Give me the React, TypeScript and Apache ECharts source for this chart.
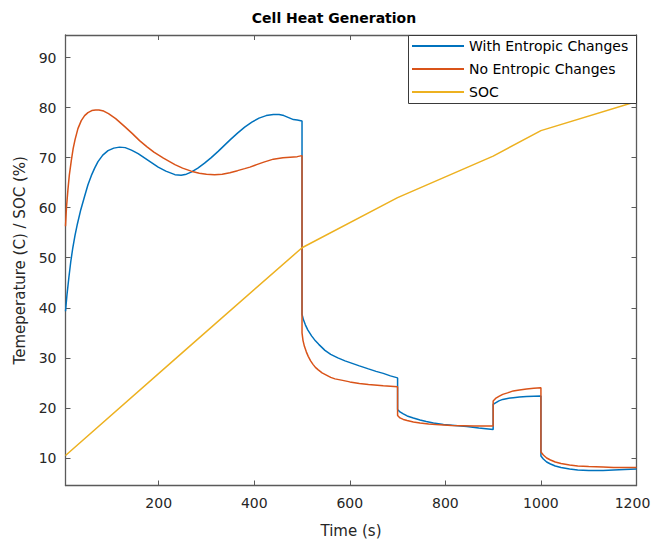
import React, { useEffect, useRef } from "react";
import * as echarts from "echarts";

// ---- Data ----
const timeWith = [5, 8, 12, 16, 20, 25, 30, 37, 45, 52, 59, 66, 73, 83, 94, 106, 118, 130, 143, 157, 171, 185, 199, 215, 234, 247, 258, 268, 282, 296, 310, 325, 338, 350, 365, 380, 395, 410, 425, 440, 452, 462, 472, 482, 490, 500,
  500, 503, 507, 512, 520, 528, 535, 548, 560, 575, 590, 605, 620, 639, 655, 670, 685, 700,
  700, 705, 712, 720, 733, 747, 760, 775, 796, 820, 845, 870, 900,
  900, 905, 912, 920, 930, 942, 955, 970, 985, 1000,
  1000, 1005, 1012, 1020, 1030, 1042, 1060, 1077, 1100, 1130, 1152, 1175, 1200];
const tempWith = [39.3, 42.5, 46, 49.2, 51.8, 54.5, 56.8, 59.6, 62.3, 64.6, 66.4, 67.9, 69.2, 70.5, 71.4, 71.9, 72.1, 72.0, 71.5, 70.8, 69.9, 69.0, 68.1, 67.3, 66.6, 66.5, 66.7, 67.1, 67.9, 68.9, 70.0, 71.3, 72.5, 73.6, 74.9, 76.1, 77.1, 77.9, 78.4, 78.6, 78.6, 78.4, 78.0, 77.6, 77.5, 77.3,
  38.7, 37.6, 36.6, 35.6, 34.4, 33.4, 32.7, 31.5, 30.7, 30.0, 29.4, 28.9, 28.4, 27.8, 27.3, 26.9, 26.4, 26.0,
  19.7, 19.2, 18.8, 18.4, 18.0, 17.6, 17.3, 17.0, 16.7, 16.5, 16.3, 16.0, 15.7,
  20.7, 21.0, 21.4, 21.7, 21.9, 22.05, 22.2, 22.3, 22.35, 22.4,
  10.4, 9.8, 9.2, 8.8, 8.4, 8.1, 7.8, 7.6, 7.5, 7.5, 7.6, 7.7, 7.8];

const timeNo = [5, 7, 10, 13, 17, 21, 25, 31, 38, 45, 52, 60, 68, 75, 85, 95, 110, 129, 145, 160, 175, 190, 210, 234, 250, 268, 285, 300, 317, 333, 349, 365, 380, 391, 405, 420, 440, 460, 475, 490, 500,
  500, 502, 505, 509, 513, 518, 523, 528, 534, 542, 550, 560, 569, 585, 600, 620, 639, 670, 700,
  700, 705, 712, 720, 733, 747, 765, 780, 813, 860, 900,
  900, 905, 912, 920, 930, 942, 955, 970, 985, 1000,
  1000, 1005, 1012, 1020, 1030, 1042, 1060, 1077, 1100, 1130, 1152, 1200];
const tempNo = [56.3, 60, 63.5, 66.5, 69.3, 71.8, 73.6, 75.8, 77.4, 78.4, 79.0, 79.4, 79.5, 79.5, 79.3, 78.8, 77.8, 76.2, 74.8, 73.4, 72.2, 71.1, 69.9, 68.6, 67.9, 67.3, 66.9, 66.7, 66.6, 66.7, 67.0, 67.4, 67.8, 68.1, 68.6, 69.1, 69.7, 70.0, 70.1, 70.2, 70.4,
  35.0, 33.5, 32.3, 31.2, 30.3, 29.4, 28.7, 28.1, 27.6, 27.0, 26.6, 26.1, 25.8, 25.5, 25.2, 24.9, 24.7, 24.45, 24.25,
  18.5, 18.0, 17.7, 17.5, 17.2, 17.0, 16.8, 16.7, 16.5, 16.4, 16.4,
  21.4, 21.9, 22.3, 22.7, 23.0, 23.4, 23.6, 23.8, 23.95, 24.05,
  11.2, 10.6, 10.0, 9.6, 9.2, 8.9, 8.6, 8.4, 8.3, 8.2, 8.1, 8.1];

const timeSoc = [5, 255, 500, 700, 900, 1000, 1200];
const socValues = [10.5, 31.5, 52.0, 62.0, 70.3, 75.4, 81.2];

const seriesNames = ["With Entropic Changes", "No Entropic Changes", "SOC"];
const seriesColors = ["#0072BD", "#D95319", "#EDB120"];

const xRange = [5, 1200];
const yRange = [4.5, 94.5];

const FONT = "'DejaVu Sans', 'Liberation Sans', sans-serif";

const zip = (xs: number[], ys: number[]) => xs.map((x, i) => [x, ys[i]]);

export default function App() {
  const ref = useRef<HTMLDivElement>(null);
  useEffect(() => {
    if (!ref.current) return;
    const chart = echarts.init(ref.current, null, { renderer: "svg" });
    const axisColor = "#5a5a5a";
    const labelColor = "#262626";
    const plain = (v: number) => String(v);
    const xLabel = (v: number) => (v === xRange[1] ? `{last|${v}}` : String(v));
    const baseAxis = {
      type: "value" as const,
      axisLine: { show: true, onZero: false, lineStyle: { color: axisColor, width: 1.3 } },
      axisTick: { show: true, inside: true, length: 5, lineStyle: { color: axisColor, width: 1 } },
      splitLine: { show: false },
    };
    chart.setOption({
      animation: false,
      backgroundColor: "#ffffff",
      grid: { left: 65.5, right: 15.5, top: 35, bottom: 57.5, containLabel: false, outerBoundsMode: "none" },
      xAxis: [
        {
          ...baseAxis,
          min: xRange[0],
          max: xRange[1],
          splitNumber: 6,
          position: "bottom",
          axisLabel: {
            showMinLabel: false,
            margin: 10,
            fontSize: 14,
            fontFamily: FONT,
            color: labelColor,
            formatter: xLabel,
            rich: { last: { fontSize: 14, fontFamily: FONT, color: labelColor, padding: [0, 8, 0, 0] } },
          },
          name: "Time (s)",
          nameLocation: "middle",
          nameGap: 38,
          nameTextStyle: { fontSize: 15, fontFamily: FONT, color: labelColor },
        },
        {
          ...baseAxis,
          min: xRange[0],
          max: xRange[1],
          splitNumber: 6,
          position: "top",
          axisLabel: { show: false },
        },
      ],
      yAxis: [
        {
          ...baseAxis,
          min: yRange[0],
          max: yRange[1],
          splitNumber: 9,
          position: "left",
          axisLabel: { showMinLabel: false, showMaxLabel: false, margin: 9, fontSize: 14, fontFamily: FONT, color: labelColor, formatter: plain },
          name: "Temeperature (C) / SOC (%)",
          nameLocation: "middle",
          nameGap: 34,
          nameTextStyle: { fontSize: 15, fontFamily: FONT, color: labelColor },
        },
        {
          ...baseAxis,
          min: yRange[0],
          max: yRange[1],
          splitNumber: 9,
          position: "right",
          axisLabel: { show: false },
        },
      ],
      legend: {
        data: seriesNames,
        orient: "vertical",
        left: 412,
        top: 38,
        padding: 0,
        itemWidth: 52,
        itemHeight: 2,
        itemGap: 7,
        icon: "rect",
        z: 10,
        textStyle: { fontSize: 14, fontFamily: FONT, color: "#000", lineHeight: 16 },
      },
      graphic: [
        {
          type: "rect",
          z: 5,
          shape: { x: 408.5, y: 35.5, width: 228, height: 68 },
          style: { fill: "#ffffff", stroke: "#3a3a3a", lineWidth: 1 },
        },
        {
          type: "text",
          x: 334,
          y: 18,
          style: {
            text: "Cell Heat Generation",
            fill: "#000",
            font: `bold 14px ${FONT}`,
            align: "center",
            verticalAlign: "middle",
          },
        },
      ],
      series: [
        { name: seriesNames[0], data: zip(timeWith, tempWith) },
        { name: seriesNames[1], data: zip(timeNo, tempNo) },
        { name: seriesNames[2], data: zip(timeSoc, socValues) },
      ].map((s, i) => ({
        ...s,
        type: "line",
        xAxisIndex: 0,
        yAxisIndex: 0,
        showSymbol: false,
        symbol: "none",
        smooth: false,
        color: seriesColors[i],
        lineStyle: { color: seriesColors[i], width: 1.5 },
      })),
    });
    return () => chart.dispose();
  }, []);
  return (
    <div
      ref={ref}
      style={{ position: "fixed", left: 0, top: 0, width: 652, height: 543, background: "#fff" }}
    />
  );
}
